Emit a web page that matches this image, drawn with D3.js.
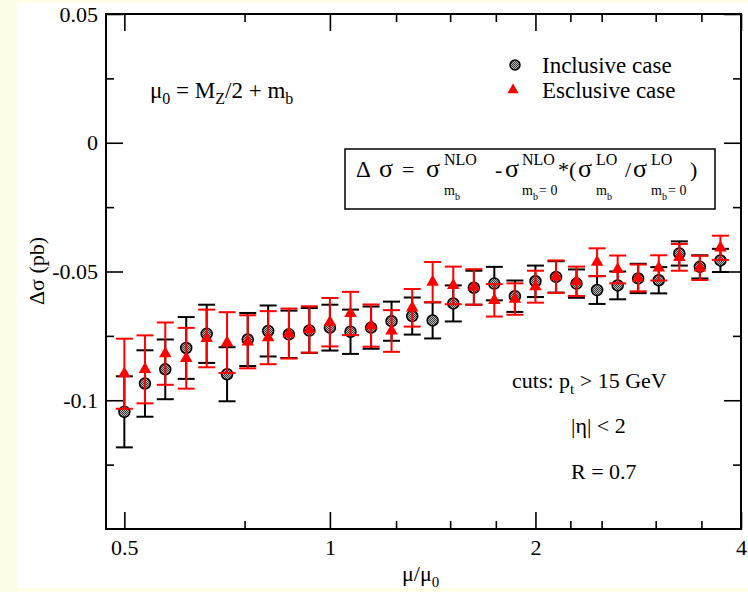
<!DOCTYPE html>
<html><head><meta charset="utf-8">
<script src="https://cdn.jsdelivr.net/npm/d3@7"></script>
<style>
html,body{margin:0;padding:0;background:#fefde8;}
svg{display:block;}
</style></head><body>
<svg id="chart" width="748" height="592"></svg>
<script>
// ---- data ----
const muRatio = [0.5, 0.536, 0.574, 0.616, 0.660, 0.707, 0.758, 0.812, 0.871, 0.933,
  1.0, 1.072, 1.149, 1.231, 1.320, 1.414, 1.516, 1.625, 1.741, 1.866,
  2.0, 2.144, 2.297, 2.462, 2.639, 2.828, 3.031, 3.249, 3.482, 3.732];
const inclusiveY = [-0.1045, -0.0935, -0.0880, -0.0797, -0.0742, -0.0899, -0.0764, -0.0731, -0.0744, -0.0729,
  -0.0718, -0.0734, -0.0718, -0.0693, -0.0673, -0.0690, -0.0624, -0.0563, -0.0547, -0.0596,
  -0.0538, -0.0521, -0.0547, -0.0572, -0.0554, -0.0527, -0.0534, -0.0430, -0.0482, -0.0457];
const inclusiveErr = [0.0138, 0.0129, 0.0116, 0.0120, 0.0113, 0.0105, 0.0103, 0.0099, 0.0092, 0.0087,
  0.0089, 0.0086, 0.0082, 0.0076, 0.0072, 0.0070, 0.0070, 0.0066, 0.0065, 0.0061,
  0.0061, 0.0061, 0.0055, 0.0054, 0.0054, 0.0057, 0.0051, 0.0047, 0.0045, 0.0045];
const exclusiveY = [-0.0897, -0.0880, -0.0819, -0.0837, -0.0760, -0.0776, -0.0773, -0.0757, -0.0741, -0.0725,
  -0.0697, -0.0663, -0.0710, -0.0731, -0.0641, -0.0541, -0.0554, -0.0560, -0.0612, -0.0607,
  -0.0559, -0.0520, -0.0538, -0.0464, -0.0492, -0.0525, -0.0486, -0.0445, -0.0486, -0.0408];
const exclusiveErr = [0.0136, 0.0132, 0.0121, 0.0118, 0.0112, 0.0118, 0.0103, 0.0103, 0.0097, 0.0090,
  0.0094, 0.0084, 0.0082, 0.0081, 0.0073, 0.0078, 0.0073, 0.0069, 0.0063, 0.0061,
  0.0062, 0.0063, 0.0057, 0.0054, 0.0054, 0.0052, 0.0049, 0.0052, 0.0047, 0.0047];
const xMajorTicks = [0.5, 1, 2, 4];
const xMajorLabels = ["0.5", "1", "2", "4"];
const xMinorTicks = [0.75, 1.25, 1.5, 1.75, 2.25, 2.5, 3, 3.5];
const yMajorTicks = [0.05, 0, -0.05, -0.1];
const yMajorLabels = ["0.05", "0", "-0.05", "-0.1"];
const yMinorTicks = [0.025, -0.025, -0.075, -0.125];
const seriesNames = ["Inclusive case", "Esclusive case"];

// ---- layout ----
const FONT = "'Liberation Serif', 'Times New Roman', Times, 'DejaVu Serif', serif";
const L = 106, R = 741, T = 14, B = 529;
const svg = d3.select("#chart");
svg.append("rect").attr("x",17).attr("y",3).attr("width",731).attr("height",585).attr("fill","#fff");

const defs = svg.append("defs");
const pat = defs.append("pattern").attr("id","chk").attr("width",2).attr("height",2).attr("patternUnits","userSpaceOnUse");
pat.append("rect").attr("width",2).attr("height",2).attr("fill","#b8b8b8");
pat.append("rect").attr("width",1).attr("height",1).attr("fill","#3a3a3a");
pat.append("rect").attr("x",1).attr("y",1).attr("width",1).attr("height",1).attr("fill","#3a3a3a");

const x = d3.scaleLog().domain([0.47, 4]).range([L, R]);
const y = d3.scaleLinear().domain([-0.15, 0.05]).range([B, T]);

function styleAxis(g){
  g.select(".domain").remove();
  g.attr("font-family",FONT).attr("font-size",22);
  g.selectAll("line").attr("stroke","#000").attr("stroke-width",1.6);
  g.selectAll("text").attr("font-family",FONT).attr("font-size",22).attr("fill","#000");
}
svg.append("g").attr("transform",`translate(0,${B})`)
  .call(d3.axisBottom(x).tickValues(xMajorTicks).tickSize(-17).tickPadding(10).tickFormat((d,i)=>xMajorLabels[i]))
  .call(styleAxis);
svg.append("g").attr("transform",`translate(0,${B})`)
  .call(d3.axisBottom(x).tickValues(xMinorTicks).tickSize(-8).tickFormat(""))
  .call(styleAxis);
svg.append("g").attr("transform",`translate(0,${T})`)
  .call(d3.axisTop(x).tickValues(xMajorTicks).tickSize(-17).tickFormat(""))
  .call(styleAxis);
svg.append("g").attr("transform",`translate(0,${T})`)
  .call(d3.axisTop(x).tickValues(xMinorTicks).tickSize(-8).tickFormat(""))
  .call(styleAxis);
svg.append("g").attr("transform",`translate(${L},0)`)
  .call(d3.axisLeft(y).tickValues(yMajorTicks).tickSize(-17).tickPadding(8).tickFormat((d,i)=>yMajorLabels[i]))
  .call(styleAxis);
svg.append("g").attr("transform",`translate(${L},0)`)
  .call(d3.axisLeft(y).tickValues(yMinorTicks).tickSize(-8).tickFormat(""))
  .call(styleAxis);
svg.append("g").attr("transform",`translate(${R},0)`)
  .call(d3.axisRight(y).tickValues(yMajorTicks).tickSize(-17).tickFormat(""))
  .call(styleAxis);
svg.append("g").attr("transform",`translate(${R},0)`)
  .call(d3.axisRight(y).tickValues(yMinorTicks).tickSize(-8).tickFormat(""))
  .call(styleAxis);

svg.append("rect").attr("x",L).attr("y",T).attr("width",R-L).attr("height",B-T)
  .attr("fill","none").attr("stroke","#000").attr("stroke-width",2);

// ---- error bars & markers ----
function errorBars(vals, errs, color){
  const g = svg.append("g").attr("stroke",color).attr("stroke-width",2).attr("fill","none");
  muRatio.forEach((m,i)=>{
    const cx = x(m), y1 = y(vals[i]+errs[i]), y2 = y(vals[i]-errs[i]);
    g.append("line").attr("x1",cx).attr("x2",cx).attr("y1",y1).attr("y2",y2);
    g.append("line").attr("x1",cx-8.5).attr("x2",cx+8.5).attr("y1",y1).attr("y2",y1);
    g.append("line").attr("x1",cx-8.5).attr("x2",cx+8.5).attr("y1",y2).attr("y2",y2);
  });
}
errorBars(inclusiveY, inclusiveErr, "#000");
svg.append("g").selectAll("circle").data(muRatio).join("circle")
  .attr("cx",d=>x(d)).attr("cy",(d,i)=>y(inclusiveY[i])).attr("r",5.5)
  .attr("fill","url(#chk)").attr("stroke","#000").attr("stroke-width",1.5);
errorBars(exclusiveY, exclusiveErr, "#ff0000");
const tri = d3.symbol(d3.symbolTriangle, 68);
svg.append("g").selectAll("path").data(muRatio).join("path")
  .attr("d",tri).attr("transform",(d,i)=>`translate(${x(d)},${y(exclusiveY[i])})`)
  .attr("fill","#ff0000");

// ---- text helpers ----
function txt(xp, yp, size){
  return svg.append("text").attr("x",xp).attr("y",yp)
    .attr("font-family",FONT).attr("font-size",size).attr("fill","#000");
}
function flow(xp, yp, parts, size){
  const t = txt(xp, yp, size);
  parts.forEach(p=>{
    t.append("tspan").attr("dy",p.dy||0).attr("font-size",p.s||size).text(p.t);
  });
  return t;
}

// ---- legend ----
svg.append("circle").attr("cx",515).attr("cy",65).attr("r",5).attr("fill","url(#chk)").attr("stroke","#000").attr("stroke-width",1.5);
txt(542, 73, 23).text(seriesNames[0]);
svg.append("path").attr("d",d3.symbol(d3.symbolTriangle,55)).attr("transform","translate(513,90)").attr("fill","#ff0000");
txt(542, 98, 23).text(seriesNames[1]);

// ---- annotations ----
flow(150, 98, [{t:"μ"},{t:"0",s:16,dy:6},{t:" = M",dy:-6},{t:"Z",s:16,dy:6},{t:"/2 + m",dy:-6},{t:"b",s:16,dy:6}], 23);
flow(512, 388, [{t:"cuts: p"},{t:"t",s:15,dy:6},{t:" > 15 GeV",dy:-6}], 22);
flow(571, 433, [{t:"|η| < 2"}], 22);
flow(571, 479, [{t:"R = 0.7"}], 22);

// axis titles
flow(402, 581, [{t:"μ/μ"},{t:"0",s:15,dy:6}], 22);
txt(0, 0, 22).attr("x",null).attr("y",null)
  .attr("transform","translate(44,271) rotate(-90)").attr("text-anchor","middle").text("Δσ (pb)");

// formula box
svg.append("rect").attr("x",345).attr("y",149).attr("width",370).attr("height",60)
  .attr("fill","#fff").attr("stroke","#000").attr("stroke-width",1.5);
function put(xp, yp, s, str){ txt(xp, yp, s).text(str); }
const MB = 177, SUP = 165, SUB = 195, SSUB = 200, G = 26;
put(356, MB, 23, "Δ"); put(379, MB, G, "σ"); put(402, MB, 22, "="); put(426, MB, G, "σ");
put(444, SUP, 16, "NLO"); put(444, SUB, 14, "m"); put(455, SSUB, 10, "b");
put(495, MB, 22, "-"); put(505, MB, G, "σ");
put(522, SUP, 16, "NLO"); put(522, SUB, 14, "m"); put(533, SSUB, 10, "b"); put(539, SUB, 14, "= 0");
put(558, MB, 22, "*"); put(569, MB, 22, "("); put(578, MB, G, "σ");
put(596, SUP, 16, "LO"); put(596, SUB, 14, "m"); put(607, SSUB, 10, "b");
put(625, MB, 22, "/"); put(633, MB, G, "σ");
put(651, SUP, 16, "LO"); put(651, SUB, 14, "m"); put(662, SSUB, 10, "b"); put(668, SUB, 14, "= 0");
put(690, MB, 22, ")");
</script></body></html>
